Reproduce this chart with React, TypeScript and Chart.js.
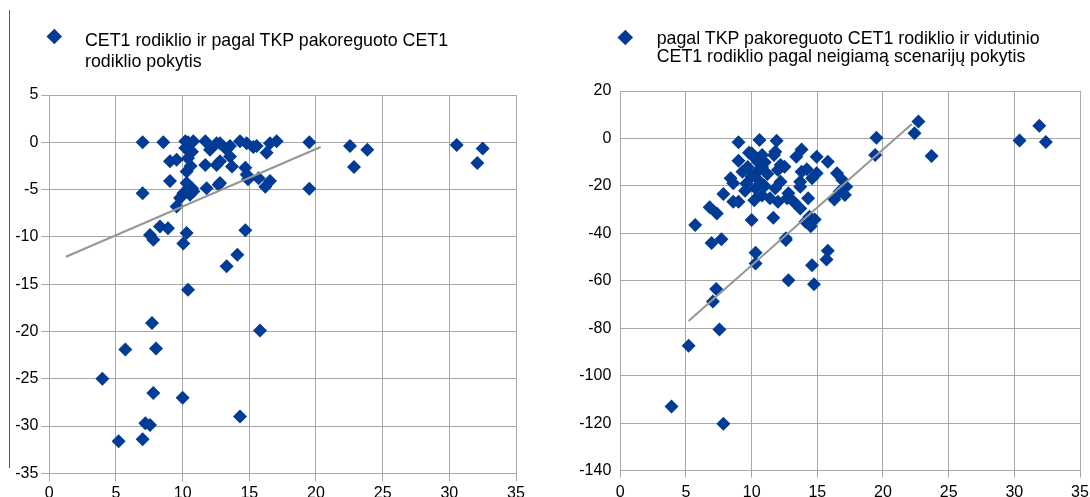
import React, { useEffect, useRef } from 'react';
import { Chart, registerables } from 'chart.js';

Chart.register(...registerables);

// ---------- Data (left panel) ----------
const leftLegendLines = ['CET1 rodiklio ir pagal TKP pakoreguoto CET1', 'rodiklio pokytis'];
const leftX = [
  7.0, 8.55, 10.2, 10.4, 10.8, 11.7, 12.55, 12.8, 13.55, 14.3, 14.8, 15.55, 16.55, 17.05, 19.5,
  12.05, 10.2, 10.7, 13.3, 16.3, 15.3,
  9.05, 9.55, 10.4, 11.7, 12.55, 13.55, 12.8, 13.7, 14.7, 10.3, 10.6,
  14.8, 15.7, 16.2, 16.55, 12.8, 12.7, 11.8, 10.7, 10.3, 9.05, 14.9, 19.5,
  7.0, 10.05, 9.8, 9.55, 10.55, 10.8,
  8.3, 8.9, 7.55, 7.8, 10.3, 10.05, 14.7,
  14.1, 13.3, 10.4, 7.7, 15.8, 5.7, 8.0, 3.98, 7.8, 10.0, 14.3, 7.2, 7.55, 5.2, 7.0,
  22.55, 23.85, 22.85, 30.55, 32.5, 32.1,
];
const leftY = [
  0, 0, 0.1, 0, 0.1, 0.1, -0.1, -0.1, -0.4, 0.1, -0.1, -0.4, -0.1, 0.1, 0,
  -0.8, -0.6, -1.0, -0.75, -1.1, -0.5,
  -2.0, -1.85, -1.7, -2.4, -2.4, -1.5, -2.0, -2.55, -2.7, -3.1, -2.5,
  -3.4, -3.8, -4.7, -4.1, -4.3, -4.5, -4.85, -4.85, -4.3, -4.1, -3.9, -4.9,
  -5.4, -5.4, -5.9, -6.8, -5.55, -5.2,
  -8.9, -9.1, -9.8, -10.3, -9.6, -10.7, -9.3,
  -11.9, -13.1, -15.6, -19.1, -19.9, -21.9, -21.8, -25.0, -26.5, -27.0, -29.0, -29.7, -29.9, -31.6, -31.4,
  -0.4, -0.8, -2.6, -0.3, -0.65, -2.2,
];
const leftTrendX = [1.25, 20.35];
const leftTrendY = [-12.1, -0.5];
const leftYMin = -35;
const leftYMax = 5;
const leftYStep = 5;

// ---------- Data (right panel) ----------
const rightLegendLines = ['pagal TKP pakoreguoto CET1 rodiklio ir vidutinio', 'CET1 rodiklio pagal neigiamą scenarijų pokytis'];
const rightX = [
  9.0, 10.6, 11.9, 19.5, 19.4, 22.7, 22.4, 23.7, 30.4, 31.9, 32.4,
  9.0, 10.0, 11.7, 13.8, 13.4, 14.95, 15.8, 12.5, 12.2, 14.2, 13.8, 14.95, 14.6, 16.5, 16.9, 17.2, 16.7, 17.1, 16.3,
  13.7, 13.7, 12.2, 11.8, 12.8, 14.3, 12.7, 13.2, 13.7, 14.4, 14.8, 14.1, 12.6, 11.65, 12.0, 11.4, 10.0,
  8.4, 8.6, 7.85, 8.6, 9.0, 6.8, 7.35, 5.7, 6.95, 7.7, 10.3, 10.3, 12.6, 12.8, 14.6, 14.75, 15.8, 15.7,
  7.3, 7.05, 7.55, 5.2, 3.9, 7.85, 14.5, 12.0, 11.8,
  9.8, 10.2, 10.5, 10.8, 10.4, 10.0, 9.7, 10.6, 11.0, 10.3, 9.6, 10.8, 10.2, 9.5, 11.2, 10.8, 9.3, 11.0,
];
const rightY = [
  -1.6, -0.6, -1.0, 0.3, -7, 7.1, 2.2, -7.4, -0.9, 5.4, -1.5,
  -9.4, -6.2, -7, -4.6, -7.7, -7.7, -9.8, -11.9, -11.2, -13, -14, -14.7, -16.8, -14.7, -17.5, -20.3, -22.4, -23.8, -25.7,
  -18.2, -20.3, -18.2, -21, -23.1, -25.2, -25.2, -26.7, -29.5, -33, -34.1, -35.1, -42.1, -33.4, -26.7, -25.2, -34.4,
  -16.8, -18.9, -23.4, -26.7, -26.7, -29, -31.6, -36.5, -44, -42.5, -48.2, -52.7, -42.8, -59.7, -53.4, -61.4, -47.3, -51,
  -63.4, -68.7, -80.5, -87.4, -112.9, -120.2, -37, -13.3, -5.6,
  -6, -8, -10, -12, -14, -16, -12, -18, -20, -21, -19, -24, -26, -22, -15, -7, -14, -10,
];
const rightTrendX = [5.2, 22.2];
const rightTrendY = [-76.9, 6.1];
const rightYMin = -140;
const rightYMax = 20;
const rightYStep = 20;

const xMin = 0;
const xMax = 35;
const xStep = 5;

const POINT_COLOR = '#003b96';
const GRID_COLOR = '#a8a8a8';
const TREND_COLOR = '#969696';
const FONT = 'Liberation Sans, Arial, sans-serif';

type PanelCfg = {
  xs: number[];
  ys: number[];
  tx: number[];
  ty: number[];
  yMin: number;
  yMax: number;
  yStep: number;
  padTop: number;
  padRight: number;
  yWidth: number;
  xHeight: number;
  yTick: number;
  yPad: number;
  xTick: number;
  xPad: number;
};

function Panel({ cfg, left, width, height }: { cfg: PanelCfg; left: number; width: number; height: number }) {
  const ref = useRef<HTMLCanvasElement | null>(null);
  useEffect(() => {
    if (!ref.current) return;
    const points = cfg.xs.map((x, i) => ({ x, y: cfg.ys[i] }));
    const trend = cfg.tx.map((x, i) => ({ x, y: cfg.ty[i] }));
    const chart = new Chart(ref.current, {
      type: 'scatter',
      data: {
        datasets: [
          {
            type: 'line',
            data: trend,
            borderColor: TREND_COLOR,
            borderWidth: 2,
            pointRadius: 0,
            fill: false,
            tension: 0,
            order: 0,
          } as any,
          {
            data: points,
            pointStyle: 'rectRot',
            pointRadius: 7,
            backgroundColor: POINT_COLOR,
            borderColor: POINT_COLOR,
            borderWidth: 0,
            order: 1,
          },
        ],
      },
      options: {
        responsive: false,
        animation: false,
        events: [],
        plugins: { legend: { display: false }, tooltip: { enabled: false } },
        layout: { padding: { left: 0, top: cfg.padTop, right: cfg.padRight, bottom: 0 } },
        scales: {
          x: {
            type: 'linear',
            min: xMin,
            max: xMax,
            ticks: {
              stepSize: xStep,
              color: '#000',
              font: { family: FONT, size: 16 },
              padding: cfg.xPad,
              maxRotation: 0,
              autoSkip: false,
            },
            grid: { color: GRID_COLOR, lineWidth: 1, tickLength: cfg.xTick, tickColor: GRID_COLOR },
            border: { color: GRID_COLOR },
            afterFit: (s: any) => {
              s.height = cfg.xHeight;
              s.paddingLeft = 0;
              s.paddingRight = 0;
            },
          },
          y: {
            type: 'linear',
            min: cfg.yMin,
            max: cfg.yMax,
            ticks: {
              stepSize: cfg.yStep,
              color: '#000',
              font: { family: FONT, size: 16 },
              padding: cfg.yPad,
              autoSkip: false,
            },
            grid: {
              color: GRID_COLOR,
              lineWidth: 1,
              drawTicks: cfg.yTick > 0,
              tickLength: cfg.yTick,
              tickColor: GRID_COLOR,
            },
            border: { color: GRID_COLOR },
            afterFit: (s: any) => {
              s.width = cfg.yWidth;
              s.paddingTop = 0;
              s.paddingBottom = 0;
            },
          },
        },
      },
    });
    return () => chart.destroy();
  }, [cfg]);
  return (
    <canvas
      ref={ref}
      width={width}
      height={height}
      style={{ position: 'absolute', left, top: 0, width, height }}
    />
  );
}

const leftCfg: PanelCfg = {
  xs: leftX,
  ys: leftY,
  tx: leftTrendX,
  ty: leftTrendY,
  yMin: leftYMin,
  yMax: leftYMax,
  yStep: leftYStep,
  padTop: 95,
  padRight: 29,
  yWidth: 49.3,
  xHeight: 23.7,
  yTick: 8,
  yPad: 3,
  xTick: 8,
  xPad: 3,
};

const rightCfg: PanelCfg = {
  xs: rightX,
  ys: rightY,
  tx: rightTrendX,
  ty: rightTrendY,
  yMin: rightYMin,
  yMax: rightYMax,
  yStep: rightYStep,
  padTop: 91,
  padRight: 10,
  yWidth: 75.3,
  xHeight: 26.3,
  yTick: 0,
  yPad: 9,
  xTick: 7,
  xPad: 5,
};

function Diamond({ cx, cy }: { cx: number; cy: number }) {
  const s = 10.6;
  return (
    <div
      style={{
        position: 'absolute',
        left: cx - s / 2,
        top: cy - s / 2,
        width: s,
        height: s,
        background: POINT_COLOR,
        transform: 'rotate(45deg)',
      }}
    />
  );
}

export default function App() {
  return (
    <div
      style={{
        position: 'absolute',
        left: 0,
        top: 0,
        width: 1090,
        height: 497,
        overflow: 'hidden',
        background: '#fff',
        fontFamily: FONT,
      }}
    >
      <div style={{ position: 'absolute', left: 9, top: 10, width: 1, height: 458, background: '#3a5aa8' }} />
      <Panel cfg={leftCfg} left={0} width={545} height={497} />
      <Panel cfg={rightCfg} left={545} width={545} height={497} />
      <Diamond cx={54.5} cy={36.5} />
      <div
        style={{
          position: 'absolute',
          left: 85,
          top: 30.3,
          fontSize: 17.8,
          lineHeight: '20.5px',
          color: '#000',
          whiteSpace: 'nowrap',
        }}
      >
        {leftLegendLines[0]}
        <br />
        {leftLegendLines[1]}
      </div>
      <Diamond cx={625.3} cy={37.5} />
      <div
        style={{
          position: 'absolute',
          left: 656.7,
          top: 28.9,
          fontSize: 17.8,
          lineHeight: '18.4px',
          color: '#000',
          whiteSpace: 'nowrap',
        }}
      >
        {rightLegendLines[0]}
        <br />
        {rightLegendLines[1]}
      </div>
    </div>
  );
}
